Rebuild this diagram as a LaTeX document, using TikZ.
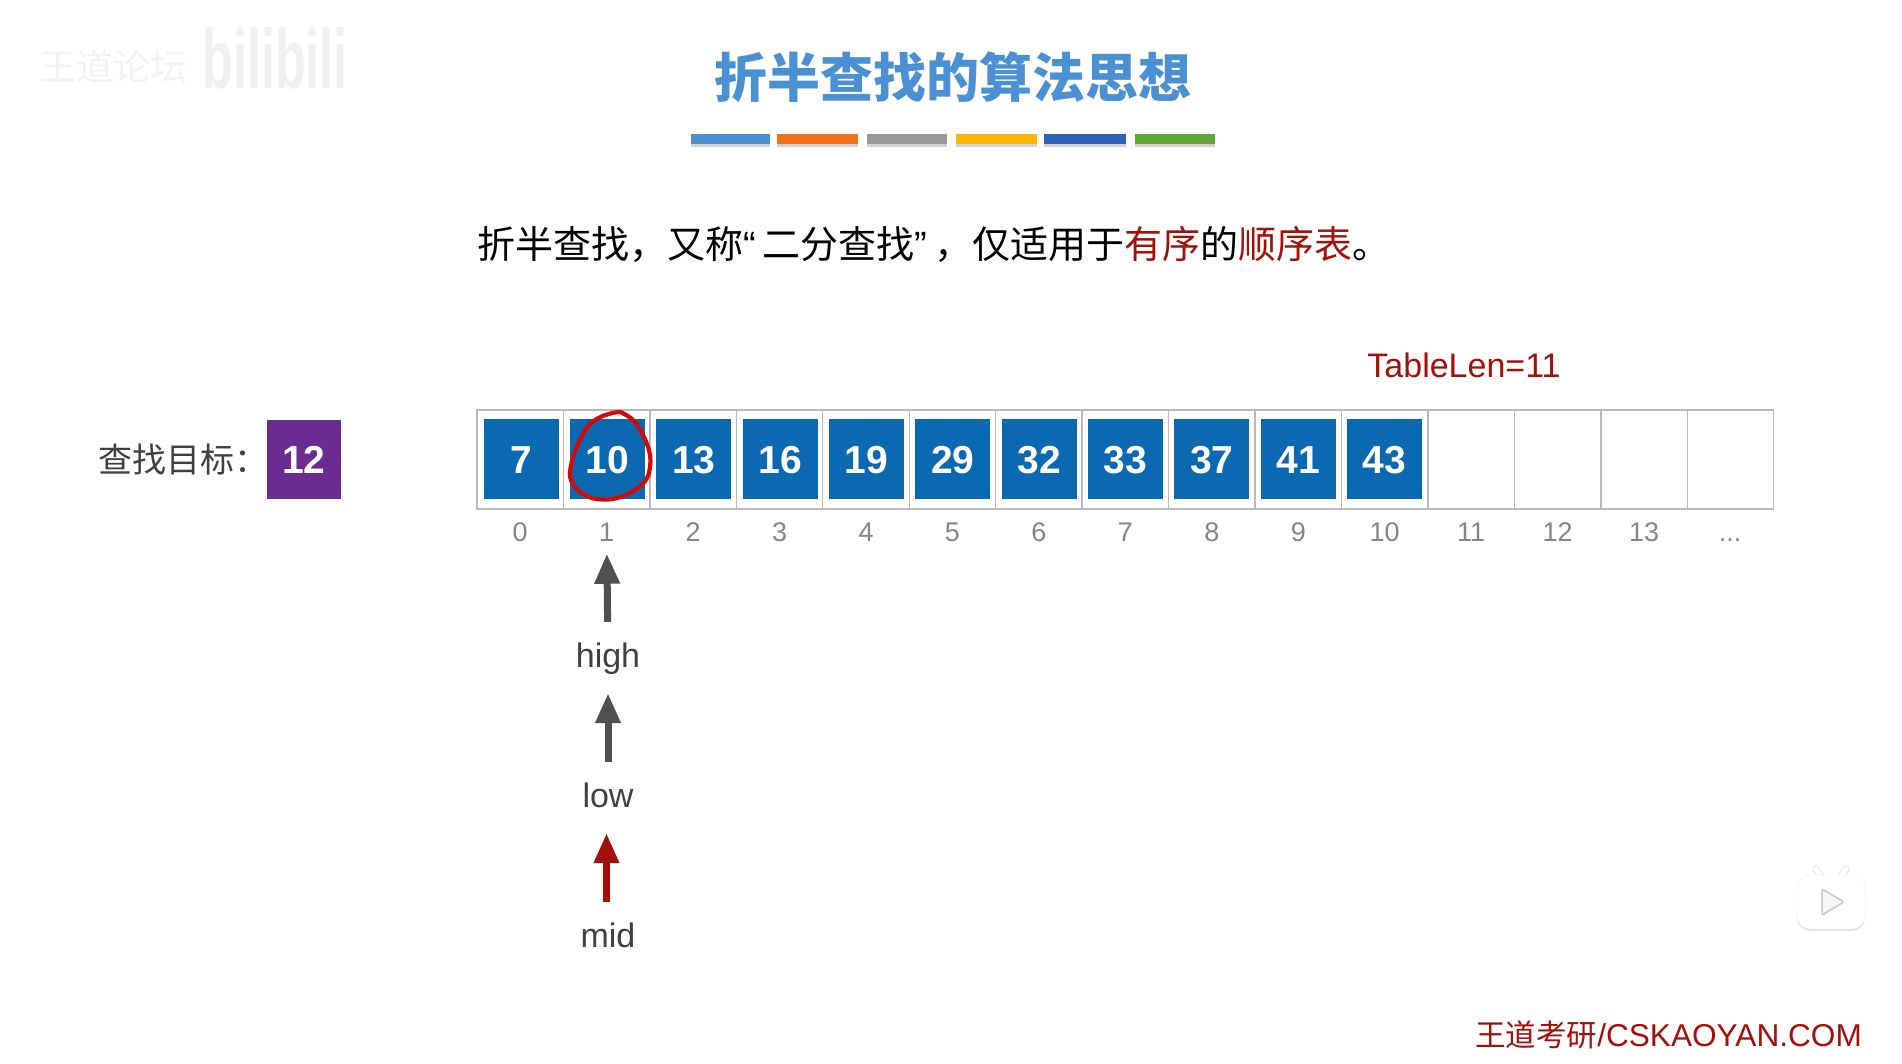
\documentclass[tikz,border=0pt]{standalone}
\usepackage{fontspec}
\setmainfont{Liberation Sans}
\newfontfamily\cjk{Noto Sans CJK SC}
\usetikzlibrary{arrows.meta,shadows}
\newcommand{\fs}[1]{\fontsize{#1}{#1}\selectfont}
\definecolor{titleblue}{HTML}{4A90D2}
\definecolor{boxblue}{HTML}{0B69B1}
\definecolor{boxpurple}{HTML}{6A2C91}
\definecolor{darkred}{HTML}{A50F0A}
\definecolor{pencil}{HTML}{D20A0A}
\definecolor{ptrgray}{HTML}{505050}
\definecolor{inkgray}{HTML}{404040}
\definecolor{barorange}{HTML}{F2711C}
\definecolor{baramber}{HTML}{FFB600}
\definecolor{barblue}{HTML}{2F62BE}
\definecolor{bargreen}{HTML}{5FA632}
\begin{document}
\begin{tikzpicture}[x=1pt,y=-1pt,
  cellbox/.style={draw=black!27,line width=1.4pt,minimum width=86.45pt,minimum height=99pt,inner sep=0pt},
  valbox/.style={fill=boxblue,text=white,minimum width=75pt,minimum height=80pt,inner sep=0pt,text height=28pt,text depth=0pt,font=\fs{39}\bfseries},
  idxlabel/.style={text=black!48,inner sep=0pt,text height=19pt,text depth=0pt,font=\fs{27}},
  ptrlabel/.style={text=inkgray,inner sep=0pt,text height=25pt,text depth=7pt,font=\fs{34}},
  ptr/.style={-{Triangle[length=30pt,width=24pt]},line width=7pt,shorten <=20pt,shorten >=19pt},
  bar/.style={minimum width=#1,minimum height=10pt,inner sep=0pt,drop shadow={shadow xshift=0pt,shadow yshift=-2.5pt,opacity=.35}}]
\useasboundingbox (0,0) rectangle (1902,1063);
% watermarks
\node (wmforum) at (113,66) [text=black!5,font=\cjk\fs{37}] {王道论坛};
\node (wmbili) at (275,58) [text=black!6,font=\fs{84}\bfseries] {\scalebox{.6}[1]{bilibili}};
% title
\node (title) at (953,77) [text=titleblue,font=\cjk\bfseries\fs{53}] {折半查找的算法思想};
\node (bar1) at (730.5,139) [bar=79pt,fill=titleblue] {};
\node (bar2) at (817.5,139) [bar=81pt,fill=barorange] {};
\node (bar3) at (907,139) [bar=80pt,fill=black!40] {};
\node (bar4) at (996.5,139) [bar=81pt,fill=baramber] {};
\node (bar5) at (1085,139) [bar=82pt,fill=barblue] {};
\node (bar6) at (1175,139) [bar=80pt,fill=bargreen] {};
\node (intro) at (477,244) [anchor=west,inner sep=0pt,font=\cjk\fs{38}] {折半查找^^^^ff0c又称{\rmfamily “}\hspace{7pt}二分查找{\rmfamily ”}\hspace{7pt}^^^^ff0c仅适用于\textcolor{darkred}{有序}的\textcolor{darkred}{顺序表}。};
\node (tablelen) at (1464,365) [text=darkred,font=\fs{34}] {TableLen=11};
% target
\node (goal) at (98,460) [anchor=west,inner sep=0pt,text=inkgray,font=\cjk\fs{34}] {查找目标^^^^ff1a};
\node (target) at (304,459.5) [fill=boxpurple,text=white,minimum width=74pt,minimum height=79pt,inner sep=0pt,text height=28pt,text depth=0pt,font=\fs{39}\bfseries] {12};
% table
\foreach \i in {0,...,14}
  \node (cell\i) at ({520.2+86.45*\i},459.5) [cellbox] {};
\foreach \v [count=\i from 0] in {7,10,13,16,19,29,32,33,37,41,43}
  \node (box\i) at ({521.3+86.3*\i},459) [valbox] {\v};
\foreach \v [count=\i from 0] in {0,1,2,3,4,5,6,7,8,9,10,11,12,13}
  \node (idx\i) at ({520.2+86.45*\i},531.5) [idxlabel] {\v};
\node (idx14) at (1730,531.5) [idxlabel] {...};
% pointers
\node (high) at (608,658) [ptrlabel] {high};
\node (low) at (608,798) [ptrlabel] {low};
\node (mid) at (608,938) [ptrlabel] {mid};
\draw[ptr,ptrgray,shorten >=12.5pt] (high) -- (idx1);
\draw[ptr,ptrgray] (low) -- (high);
\draw[ptr,darkred] ([xshift=-1.5pt]mid.north) -- ([xshift=-1.5pt]low.south);
% pen mark round the value
\draw[pencil,line width=4.2pt] plot[smooth cycle,tension=.7] coordinates {(615,412.5) (593,421.5) (580,440) (571.5,463) (571.5,481.5) (585,495) (603,499.5) (623,496) (643,483.5) (650,467) (648,447) (637,425) (626,415)};
% footer and player mark
\node (footer) at (1862,1035) [anchor=east,inner sep=0pt,text=darkred,font=\fs{31.6}] {{\cjk\fs{30.5}王道考研}/CSKAOYAN.COM};
\draw[black!10,line width=7pt,line cap=round] (1816,869) -- (1823,880) (1846,869) -- (1839,880);
\draw[white,line width=5pt,line cap=round] (1816,869) -- (1823,880) (1846,869) -- (1839,880);
\node (tvbody) at (1831,902) [fill=white,draw=black!7,rounded corners=13pt,minimum width=68pt,minimum height=54pt,inner sep=0pt,drop shadow={shadow xshift=0pt,shadow yshift=-2pt,opacity=.22}] {};
\draw[black!22,fill=black!3,line width=1.5pt,line join=round,rounded corners=2pt] (1822,889) -- (1844,902) -- (1822,915) -- cycle;
\end{tikzpicture}
\end{document}
